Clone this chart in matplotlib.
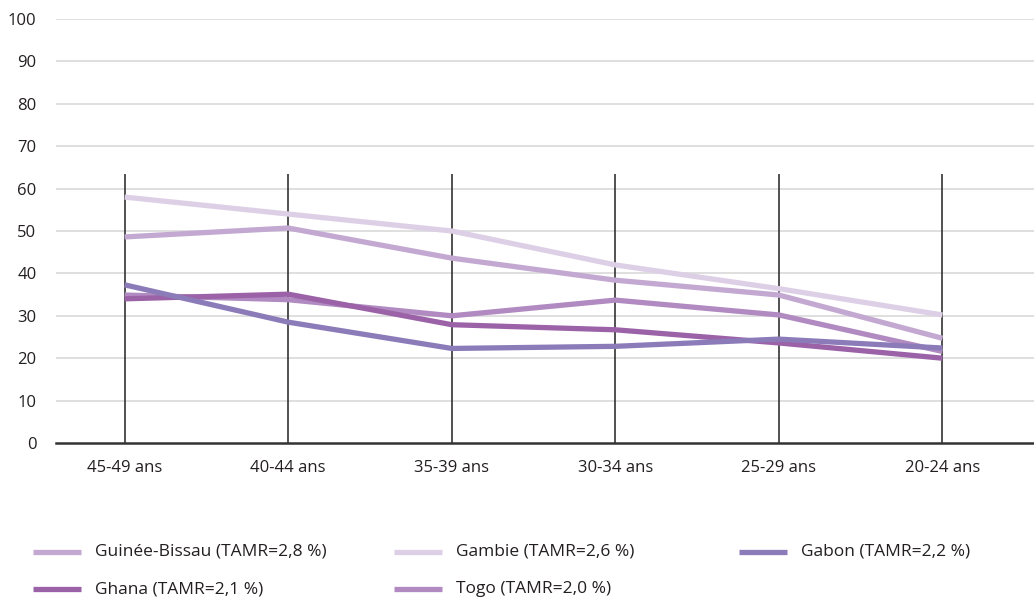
import numpy as np
import matplotlib
matplotlib.use('Agg')
import matplotlib.pyplot as plt
from matplotlib.lines import Line2D

plt.rcParams['font.family'] = ['Open Sans', 'DejaVu Sans']

categories = ['45-49 ans', '40-44 ans', '35-39 ans', '30-34 ans', '25-29 ans', '20-24 ans']

gambie = [58.0, 54.0, 50.0, 42.0, 36.4, 30.2]
guinee_bissau = [48.6, 50.7, 43.6, 38.4, 34.9, 24.7]
togo = [34.9, 33.8, 30.0, 33.7, 30.2, 21.6]
ghana = [34.0, 35.1, 27.9, 26.7, 23.6, 20.0]
gabon = [37.3, 28.5, 22.3, 22.8, 24.5, 22.4]

labels = {
    'gb': 'Guinée-Bissau (TAMR=2,8 %)',
    'gm': 'Gambie (TAMR=2,6 %)',
    'ga': 'Gabon (TAMR=2,2 %)',
    'gh': 'Ghana (TAMR=2,1 %)',
    'tg': 'Togo (TAMR=2,0 %)',
}
colors = {
    'gb': '#c3a9d2',
    'gm': '#ddd0e6',
    'ga': '#8b7cb9',
    'gh': '#9b62a8',
    'tg': '#b08ac0',
}
series = {'gm': gambie, 'gb': guinee_bissau, 'tg': togo, 'gh': ghana, 'ga': gabon}

fig = plt.figure(figsize=(10.34, 5.99), dpi=100)
ax = fig.add_axes([56/1034, 156/599, 1 - 56/1034, (580 - 156)/599])

x = np.arange(len(categories))

# grid
for v in range(10, 101, 10):
    ax.axhline(v, color='#d9d9d9', lw=1.2, zorder=0)

# drop lines
ax.vlines(x, 0, 63.5, color='#333333', lw=1.2, zorder=1)

for k in ['gm', 'gb', 'tg', 'gh', 'ga']:
    ax.plot(x, series[k], color=colors[k], lw=3.8, solid_capstyle='butt', zorder=3)

ax.set_xlim(-0.42, 5.56)
ax.set_ylim(0, 100)
ax.set_yticks(range(0, 101, 10))
ax.set_xticks(x)
ax.set_xticklabels(categories)
for s in ['top', 'right', 'left']:
    ax.spines[s].set_visible(False)
ax.spines['bottom'].set_color('#333333')
ax.spines['bottom'].set_linewidth(1.8)
ax.tick_params(axis='both', length=0, labelsize=12, colors='#231f20')
ax.tick_params(axis='y', pad=14)
ax.tick_params(axis='x', pad=12)

# legend (row-major, 3 columns)
leg_order = ['gb', 'gm', 'ga', 'gh', 'tg']
col_x = [33, 394, 739]
row_y = [552, 589]
for i, k in enumerate(leg_order):
    cx = col_x[i % 3]
    ry = row_y[i // 3]
    yf = 1 - ry / 599
    fig.add_artist(Line2D([cx/1034, (cx + 48)/1034], [yf, yf], color=colors[k], lw=3.8,
                          solid_capstyle='butt'))
    fig.text((cx + 62)/1034, yf, labels[k], fontsize=12.5, va='center', ha='left', color='#231f20')

plt.savefig('out.png', dpi=100)
